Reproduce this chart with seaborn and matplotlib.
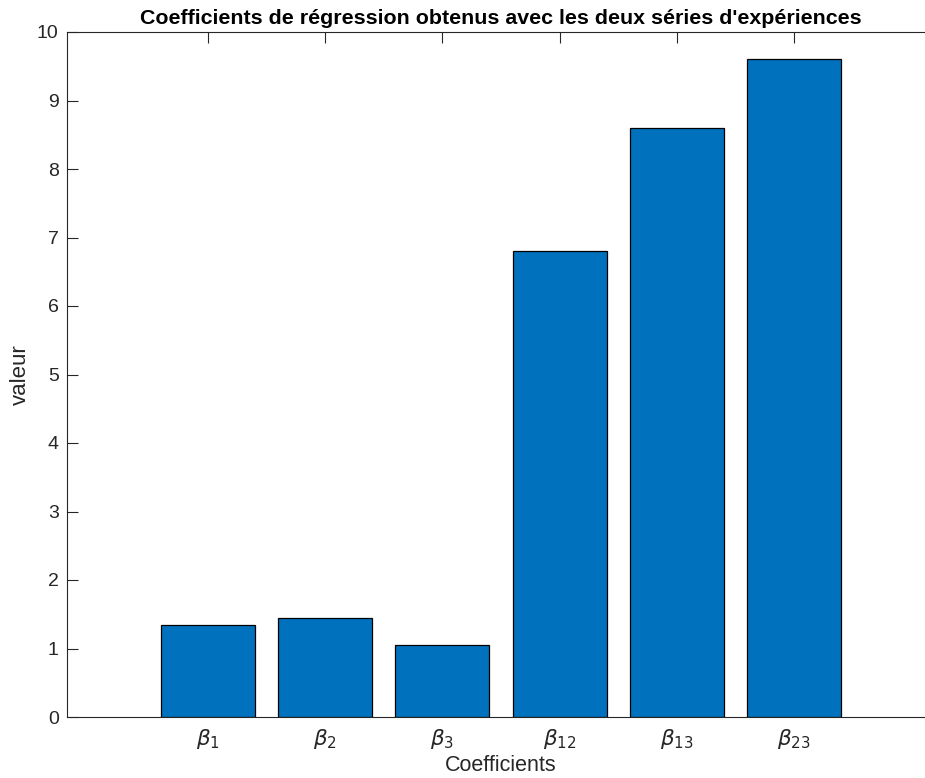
import matplotlib
matplotlib.use("Agg")
import matplotlib.pyplot as plt
import seaborn as sns
import pandas as pd

# data
coefficients = [r"$\beta_{1}$", r"$\beta_{2}$", r"$\beta_{3}$",
                r"$\beta_{12}$", r"$\beta_{13}$", r"$\beta_{23}$"]
valeurs = [1.35, 1.45, 1.05, 6.8, 8.6, 9.6]
y_ticks = list(range(0, 11))

sns.set_theme(style="ticks")
plt.rcParams["font.family"] = ["Liberation Sans", "DejaVu Sans"]
plt.rcParams["mathtext.fontset"] = "dejavusans"

df = pd.DataFrame({"coef": coefficients, "valeur": valeurs})

fig = plt.figure(figsize=(9.25, 7.78), dpi=100)
# right edge of the axes falls just outside the picture, as in the original
ax = fig.add_axes([67 / 925, 1 - 717 / 778, (935 - 67) / 925, (717 - 32) / 778])

sns.barplot(data=df, x="coef", y="valeur", ax=ax, color="#0072BD",
            saturation=1, width=0.8, edgecolor="black", linewidth=0.9)

ax.set_xlim(-1.2, 6.2)
ax.set_ylim(0, 10)
ax.set_yticks(y_ticks)

for side in ["left", "right", "top", "bottom"]:
    ax.spines[side].set_visible(True)
    ax.spines[side].set_color("#262626")
    ax.spines[side].set_linewidth(0.8)

ax.tick_params(direction="in", length=8, width=0.8, color="#262626",
               labelsize=14, labelcolor="#262626", top=True, right=False,
               pad=6)
ax.tick_params(axis="x", labelsize=15.5, pad=7)

ax.set_title("Coefficients de régression obtenus avec les deux séries d'expériences",
             fontsize=15.4, fontweight="bold", color="black", pad=6)
ax.set_xlabel("Coefficients", fontsize=15.5, color="#262626", labelpad=3)
ax.set_ylabel("valeur", fontsize=16, color="#262626", labelpad=4)

fig.savefig("out.png", dpi=100)
